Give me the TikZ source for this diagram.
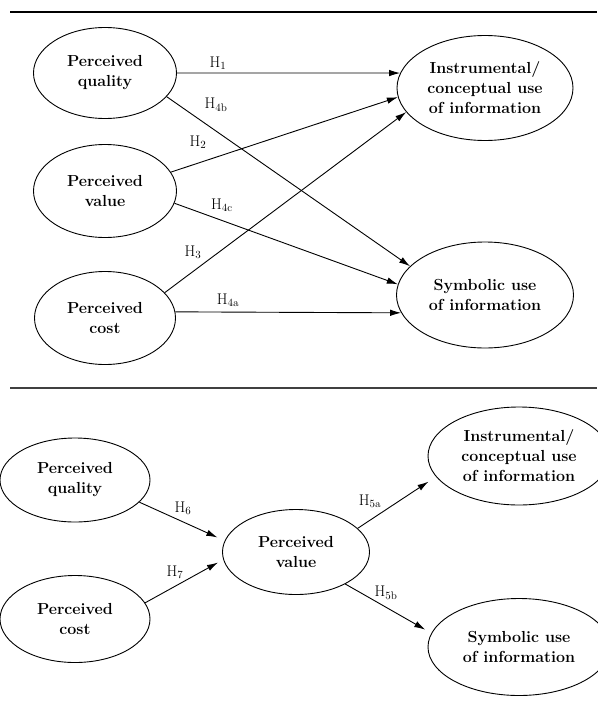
\documentclass[tikz,border=0pt]{standalone}
\usetikzlibrary{shapes.geometric,arrows.meta}
\begin{document}
\begin{tikzpicture}[x=1pt,y=-1pt,
  ell/.style={draw, ellipse, line width=0.9pt, inner sep=0pt, align=center,
    font=\fontsize{16}{20}\selectfont\bfseries},
  conn/.style={line width=0.9pt, -{Latex[length=11pt,width=6.5pt]}},
  hyp/.style={font=\fontsize{15.5}{17}\selectfont, inner sep=1pt},
  rule/.style={line width=2pt}]
\useasboundingbox (0,0) rectangle (597,725);

% rules separating the two models
\draw[rule] (10,12) -- (597,12);
\draw[rule, black!75] (10,388) -- (597,388);

% ---- first model: direct effects
\node[ell, minimum width=143, minimum height=91] (q1) at (105,73) {Perceived\\quality};
\node[ell, minimum width=143, minimum height=93] (v1) at (105,191) {Perceived\\value};
\node[ell, minimum width=141, minimum height=93] (c1) at (105,318) {Perceived\\cost};
\node[ell, minimum width=176, minimum height=105] (i1) at (485,88) {Instrumental/\\conceptual use\\of information};
\node[ell, minimum width=177, minimum height=106] (s1) at (485,295) {Symbolic use\\of information};

\draw[conn] (q1.east) -- (i1.170);
\draw[conn] (q1.-21) -- (s1.159);
\draw[conn] (v1.16) -- (i1.186);
\draw[conn] (v1.-10) -- (s1.173);
\draw[conn] (c1.23) -- (i1.197);
\draw[conn] (c1.5) -- (s1.192);

\node[hyp] (h1) at (218,63) {H$_1$};
\node[hyp] (h4b) at (216,105) {H$_{4\mathrm{b}}$};
\node[hyp] (h2) at (198,142) {H$_2$};
\node[hyp] (h4c) at (222,205) {H$_{4\mathrm{c}}$};
\node[hyp] (h3) at (193,252) {H$_3$};
\node[hyp] (h4a) at (228,300) {H$_{4\mathrm{a}}$};

% ---- second model: value as mediator
\node[ell, minimum width=150, minimum height=84] (q2) at (75,480) {Perceived\\quality};
\node[ell, minimum width=150, minimum height=87] (c2) at (75,619) {Perceived\\cost};
\node[ell, minimum width=147, minimum height=85] (v2) at (296,552) {Perceived\\value};
\node[ell, minimum width=182, minimum height=98] (i2) at (519,456) {Instrumental/\\conceptual use\\of information};
\node[ell, minimum width=182, minimum height=97] (s2) at (519,647) {Symbolic use\\of information};

\draw[conn, shorten >=8pt] (q2.-19) -- (v2.171);
\draw[conn, shorten >=6pt] (c2.13) -- (v2.186);
\draw[conn, shorten >=9pt] (v2.21) -- (i2.194);
\draw[conn, shorten >=7pt] (v2.-33) -- (s2.171);

\node[hyp] (h6) at (183,508) {H$_6$};
\node[hyp] (h7) at (175,572) {H$_7$};
\node[hyp] (h5a) at (370,501) {H$_{5\mathrm{a}}$};
\node[hyp] (h5b) at (386,593) {H$_{5\mathrm{b}}$};
\end{tikzpicture}
\end{document}
